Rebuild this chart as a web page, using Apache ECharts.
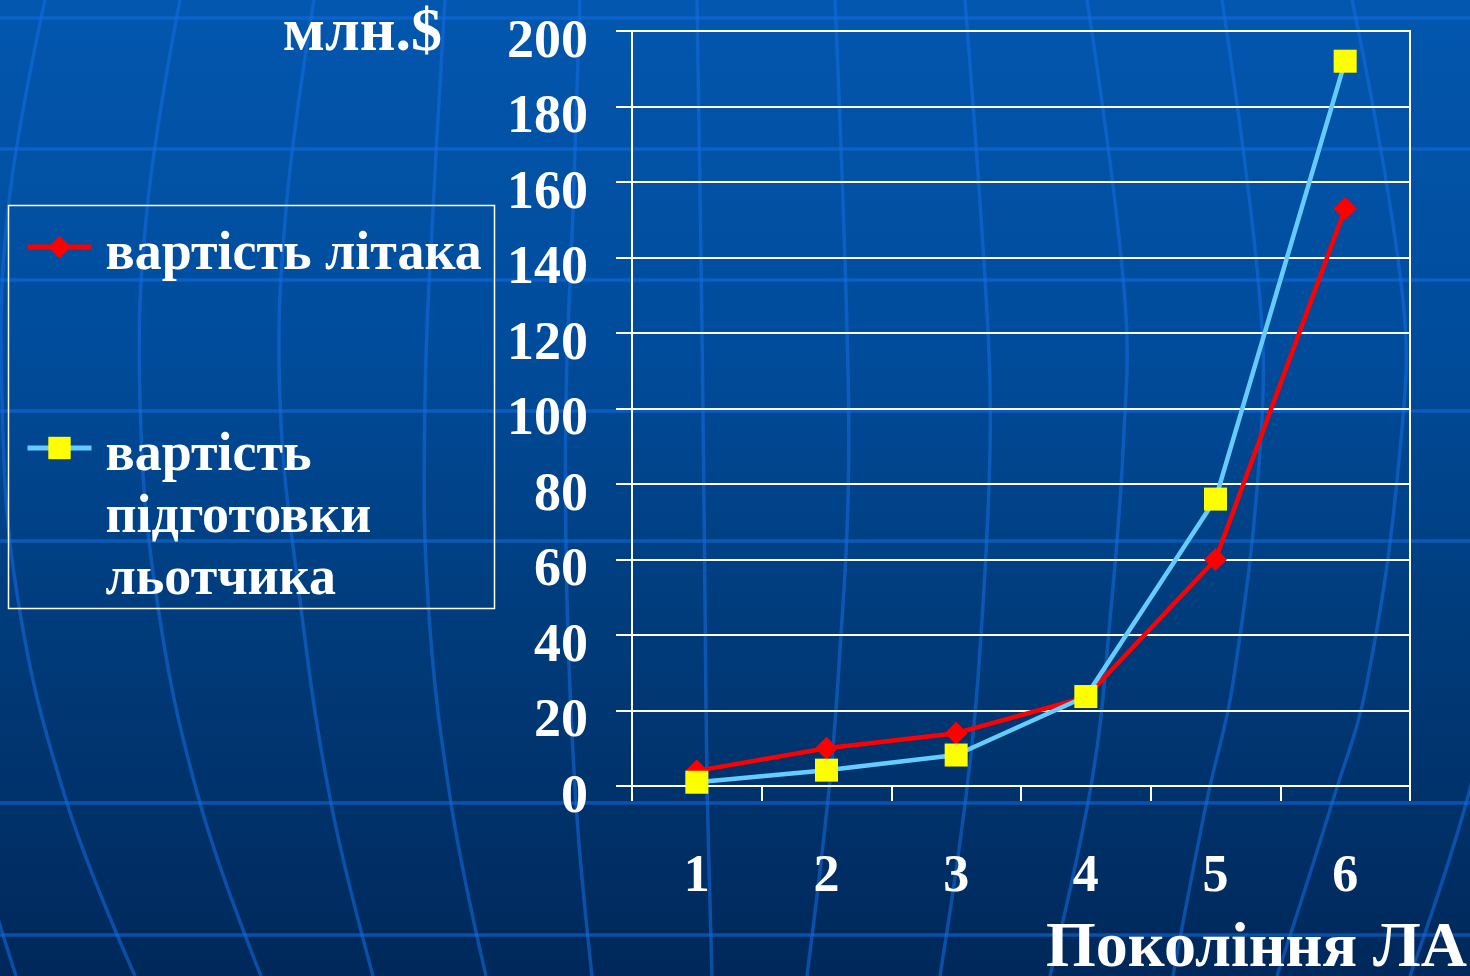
<!DOCTYPE html>
<html><head><meta charset="utf-8">
<script src="https://cdn.jsdelivr.net/npm/echarts@6/dist/echarts.min.js"></script>
<style>html,body{margin:0;padding:0;width:1470px;height:976px;overflow:hidden;background:#003a78}#c{width:1470px;height:976px}</style>
</head><body><div id="c"></div><script>
// ---- data ----
const generations = ['1', '2', '3', '4', '5', '6'];
const aircraftCost = [4, 10, 14, 23.5, 60, 153];
const pilotTrainingCost = [1, 4.2, 8.2, 23.7, 76, 192];
const yMin = 0, yMax = 200, yInterval = 20;
const seriesNames = ['вартість літака', 'вартість підготовки льотчика'];
const legendLines2 = ['вартість', 'підготовки', 'льотчика'];
const yUnit = 'млн.$';
const xTitle = 'Покоління ЛА';

// ---- decoration (background globe grid) ----
const FONT = '"Liberation Serif", "Times New Roman", serif';
const decoColor = 'rgba(20,110,225,0.55)';
const hLinesY = [18, 149, 280, 411, 541, 803, 935];
const meridians = [
  [[-8, 900], [16, 976]],
  [[45, 0], [8, 210], [2, 400], [18, 600], [67, 803], [135, 976]],
  [[180, 0], [147, 210], [140, 400], [157, 600], [200, 803], [261, 976]],
  [[314, 0], [286, 210], [280, 400], [300, 600], [331, 803], [373, 976]],
  [[445, 0], [433, 210], [425, 400], [428, 600], [451, 803], [486, 976]],
  [[580, 0], [573, 210], [566, 400], [567, 600], [576, 803], [592, 976]],
  [[697, 0], [702, 330], [705, 600], [707, 780], [712, 976]],
  [[835, 0], [847, 330], [848, 500], [840, 650], [830, 780], [807, 976]],
  [[965, 0], [988, 330], [990, 450], [982, 620], [968, 780], [940, 976]],
  [[1087, 0], [1125, 300], [1123, 450], [1110, 620], [1092, 780], [1050, 976]],
  [[1222, 0], [1260, 300], [1260, 450], [1233, 683], [1207, 800], [1173, 976]],
  [[1352, 0], [1403, 300], [1400, 450], [1367, 683], [1333, 800], [1277, 976]],
  [[1510, 500], [1490, 683], [1467, 800], [1410, 976]]
];
const deco = [];
hLinesY.forEach(y => deco.push({type: 'line', silent: true, z: -10,
  shape: {x1: 0, y1: y, x2: 1470, y2: y}, style: {stroke: decoColor, lineWidth: 3.5}}));
meridians.forEach(pts => deco.push({type: 'polyline', silent: true, z: -10,
  shape: {points: pts, smooth: 0.4}, style: {stroke: decoColor, lineWidth: 3.5, fill: null}}));

const legendRich = {
  t: {color: '#fff', fontSize: 54, fontWeight: 'bold', fontFamily: FONT, lineHeight: 62, padding: [0, 0, 0, 9]},
  s1: {fontSize: 8, lineHeight: 16},
  s2: {fontSize: 8, lineHeight: 140}
};

const chart = echarts.init(document.getElementById('c'), null, {renderer: 'canvas'});
chart.setOption({
  backgroundColor: {
    type: 'linear', x: 0, y: 0, x2: 0, y2: 1,
    colorStops: [
      {offset: 0, color: '#0357ae'},
      {offset: 0.35, color: '#004c9c'},
      {offset: 0.65, color: '#003b7a'},
      {offset: 1, color: '#00285a'}
    ]
  },
  animation: false,
  grid: {left: 632, right: 60, top: 31, bottom: 190, show: true,
    borderColor: '#ffffff', borderWidth: 2, backgroundColor: 'transparent'},
  legend: [
    {data: [seriesNames[0]], orient: 'vertical', left: 25, top: 212, padding: 0,
      itemWidth: 64, itemHeight: 28, selectedMode: false,
      lineStyle: {width: 5},
      formatter: name => '{s1| }\n{t|' + name + '}',
      textStyle: {color: '#fff', rich: legendRich}},
    {data: [seriesNames[1]], orient: 'vertical', left: 25, top: 351, padding: 0,
      itemWidth: 64, itemHeight: 28, selectedMode: false,
      lineStyle: {width: 5},
      formatter: () => '{s2| }\n' + legendLines2.map(l => '{t|' + l + '}').join('\n'),
      textStyle: {color: '#fff', rich: legendRich}}
  ],
  xAxis: {
    type: 'category', data: generations, boundaryGap: true,
    axisLine: {show: true, lineStyle: {color: '#fff', width: 2}},
    axisTick: {show: true, length: 15, lineStyle: {color: '#fff', width: 2}},
    axisLabel: {color: '#fff', fontSize: 52, fontWeight: 'bold', fontFamily: FONT, lineHeight: 52, margin: 66},
    splitLine: {show: false}
  },
  yAxis: {
    type: 'value', min: yMin, max: yMax, interval: yInterval,
    axisLine: {show: true, lineStyle: {color: '#fff', width: 2}},
    axisTick: {show: true, length: 16, lineStyle: {color: '#fff', width: 2}},
    axisLabel: {margin: 44, formatter: '{s| }\n{v|{value}}',
      rich: {
        s: {fontSize: 8, lineHeight: 24},
        v: {color: '#fff', fontSize: 54, fontWeight: 'bold', fontFamily: FONT, lineHeight: 54}
      }},
    splitLine: {show: true, lineStyle: {color: '#fff', width: 2}}
  },
  series: [
    {name: seriesNames[0], type: 'line', data: aircraftCost,
      symbol: 'diamond', symbolSize: 23,
      lineStyle: {color: '#ff0000', width: 4.5},
      itemStyle: {color: '#ff0000'}, z: 3},
    {name: seriesNames[1], type: 'line', data: pilotTrainingCost,
      symbol: 'rect', symbolSize: 23,
      lineStyle: {color: '#66ccff', width: 4.5},
      itemStyle: {color: '#ffff00'}, z: 4}
  ],
  graphic: deco.concat([
    {type: 'rect', silent: true, shape: {x: 8.5, y: 205.5, width: 486, height: 403},
      style: {fill: null, stroke: '#ffffff', lineWidth: 1.5}},
    {type: 'text', silent: true, style: {text: yUnit, x: 442, y: 34, align: 'right', verticalAlign: 'middle',
      fill: '#fff', fontSize: 62, fontWeight: 'bold', fontFamily: FONT}},
    {type: 'text', silent: true, style: {text: xTitle, x: 1467, y: 949, align: 'right', verticalAlign: 'middle',
      fill: '#fff', fontSize: 64, fontWeight: 'bold', fontFamily: FONT}}
  ])
});
</script></body></html>
